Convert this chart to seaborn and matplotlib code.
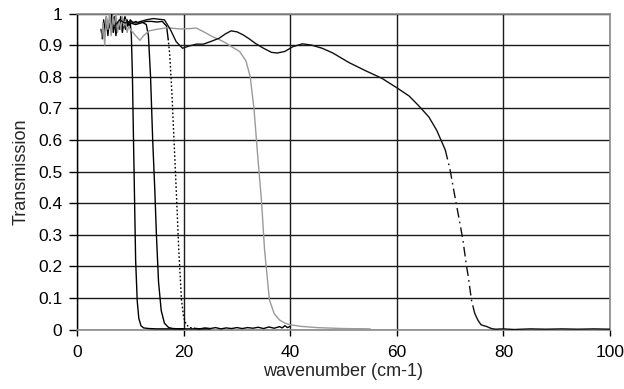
import matplotlib
matplotlib.use("Agg")
import matplotlib.pyplot as plt
import seaborn as sns
import pandas as pd

# ---------------- data ----------------
# curve 1: black solid, cut-off near 11 cm-1
c1_x = [4.5, 4.8, 5.0, 5.3, 5.5, 5.8, 6.0, 6.3, 6.5, 6.8, 7.0, 7.3, 7.6, 7.9, 8.2, 8.5,
        8.8, 9.1, 9.4, 9.7, 10.0, 10.2, 10.4, 10.6, 10.8, 11.0, 11.3, 11.6, 12.0, 12.5,
        13.5, 15.0, 17.0, 20.0]
c1_y = [0.95, 0.92, 0.98, 0.94, 0.99, 0.93, 0.97, 0.95, 1.00, 0.94, 0.98, 0.93, 0.97,
        0.95, 0.99, 0.94, 0.97, 0.95, 0.98, 0.96, 0.97, 0.93, 0.80, 0.60, 0.41, 0.22,
        0.09, 0.035, 0.012, 0.005, 0.003, 0.002, 0.002, 0.002]

# curve 2: black solid, cut-off near 15 cm-1
c2_x = [6.5, 7.0, 7.5, 8.0, 8.5, 9.0, 9.5, 10.0, 10.5, 11.0, 11.5, 12.0, 12.5, 13.0,
        13.4, 13.8, 14.2, 14.6, 14.9, 15.3, 15.8, 16.4, 17.2, 18.0, 20.0, 25.0]
c2_y = [0.97, 0.99, 0.95, 0.98, 0.96, 0.99, 0.96, 0.98, 0.97, 0.975, 0.97, 0.975, 0.97,
        0.965, 0.93, 0.80, 0.60, 0.44, 0.30, 0.15, 0.06, 0.02, 0.006, 0.003, 0.002, 0.002]

# curve 3: black, dotted in its steep drop near 19 cm-1
c3_top_x = [7.0, 8.0, 9.0, 10.0, 11.0, 12.0, 13.0, 14.0, 15.0, 16.0, 16.8, 17.1]
c3_top_y = [0.98, 0.96, 0.98, 0.97, 0.965, 0.97, 0.975, 0.975, 0.973, 0.975, 0.96, 0.92]
c3_drop_x = [17.1, 17.4, 17.8, 18.2, 18.7, 19.1, 19.6, 20.0, 20.5, 21.2, 22.0]
c3_drop_y = [0.92, 0.87, 0.75, 0.60, 0.41, 0.25, 0.094, 0.04, 0.015, 0.006, 0.004]
c3_tail_x = [22.0, 23.0, 24.0, 25.0, 26.0, 27.0, 28.0, 29.0, 30.0, 31.0, 32.0, 33.0,
             34.0, 35.0, 36.0, 37.0, 38.0, 38.5, 39.0, 39.5, 40.0]
c3_tail_y = [0.004, 0.002, 0.005, 0.003, 0.006, 0.002, 0.005, 0.003, 0.006, 0.003,
             0.006, 0.004, 0.007, 0.003, 0.008, 0.004, 0.009, 0.005, 0.012, 0.006, 0.010]

# curve 4: grey solid, cut-off near 35 cm-1
c4_x = [4.6, 4.9, 5.2, 5.5, 5.8, 6.1, 6.4, 6.7, 7.0, 7.3, 7.6, 7.9, 8.2, 8.5, 8.8, 9.1,
        9.4, 9.7, 10.0, 10.5, 11.0, 11.8, 12.5, 13.5, 15.0, 17.0, 19.3, 21.0, 22.4,
        24.0, 25.4, 27.0, 28.0, 29.0, 30.5, 31.7, 32.5, 33.2, 33.9, 34.6, 35.2, 36.1,
        37.0, 38.0, 39.0, 40.0, 42.0, 45.0, 50.0, 55.0]
c4_y = [0.92, 0.97, 0.90, 0.99, 0.95, 1.00, 0.93, 0.99, 0.96, 1.00, 0.94, 0.98, 0.95,
        0.99, 0.96, 0.98, 0.94, 0.96, 0.95, 0.94, 0.93, 0.915, 0.93, 0.945, 0.95, 0.955,
        0.951, 0.952, 0.954, 0.94, 0.927, 0.915, 0.906, 0.895, 0.88, 0.85, 0.80, 0.70,
        0.55, 0.41, 0.25, 0.094, 0.05, 0.03, 0.02, 0.015, 0.01, 0.006, 0.003, 0.002]

# curve 5: black, dash-dot in its steep drop near 72 cm-1
c5_top_x = [7.0, 8.0, 9.0, 10.0, 11.0, 12.0, 13.0, 14.3, 15.3, 16.4, 17.5, 18.6, 19.8,
            21.0, 22.4, 23.7, 25.2, 26.7, 27.8, 28.9, 30.0, 31.1, 32.3, 33.5, 35.0,
            36.5, 37.6, 39.0, 40.5, 42.3, 44.0, 46.0, 48.0, 51.0, 54.0, 57.2, 60.0,
            62.3, 64.0, 66.0, 67.5, 69.1]
c5_top_y = [0.96, 0.98, 0.97, 0.975, 0.97, 0.975, 0.98, 0.984, 0.982, 0.98, 0.95, 0.911,
            0.89, 0.897, 0.903, 0.903, 0.912, 0.922, 0.935, 0.945, 0.942, 0.933, 0.92,
            0.905, 0.89, 0.877, 0.875, 0.88, 0.895, 0.904, 0.90, 0.89, 0.875, 0.845,
            0.82, 0.795, 0.765, 0.739, 0.71, 0.673, 0.63, 0.568]
c5_drop_x = [69.1, 70.0, 70.8, 71.6, 72.4, 73.0, 73.4, 74.0, 74.6]
c5_drop_y = [0.568, 0.505, 0.43, 0.358, 0.284, 0.21, 0.168, 0.094, 0.052]
c5_tail_x = [74.6, 75.2, 75.8, 76.3, 76.8, 77.3, 77.8, 78.5, 80.0, 82.0, 85.0, 88.0,
             91.0, 94.0, 97.0, 100.0]
c5_tail_y = [0.052, 0.03, 0.015, 0.012, 0.01, 0.006, 0.003, 0.001, 0.002, 0.0, 0.002,
             0.001, 0.002, 0.001, 0.002, 0.001]

x_ticks = [0, 20, 40, 60, 80, 100]
y_ticks = [0, 0.1, 0.2, 0.3, 0.4, 0.5, 0.6, 0.7, 0.8, 0.9, 1]
y_tick_labels = ["0", "0.1", "0.2", "0.3", "0.4", "0.5", "0.6", "0.7", "0.8", "0.9", "1"]
x_label = "wavenumber (cm-1)"
y_label = "Transmission"

# ---------------- plot ----------------
sns.set_style("white")
plt.rcParams["font.family"] = ["Liberation Sans", "DejaVu Sans"]

fig = plt.figure(figsize=(6.24, 3.89), dpi=100)
ax = fig.add_axes([77 / 624, 1 - 329.5 / 389, 533 / 624, 316 / 389])

pieces = [
    (c1_x, c1_y, "#000000", "-"),
    (c2_x, c2_y, "#000000", "-"),
    (c3_top_x, c3_top_y, "#000000", "-"),
    (c3_drop_x, c3_drop_y, "#000000", (0, (1.2, 1.6))),
    (c3_tail_x, c3_tail_y, "#000000", "-"),
    (c4_x, c4_y, "#9a9a9a", "-"),
    (c5_top_x, c5_top_y, "#111111", "-"),
    (c5_drop_x, c5_drop_y, "#111111", (0, (7, 3, 1.2, 3))),
    (c5_tail_x, c5_tail_y, "#111111", "-"),
]
for xs, ys, col, ls in pieces:
    df = pd.DataFrame({"x": xs, "y": ys})
    sns.lineplot(data=df, x="x", y="y", ax=ax, color=col, linestyle=ls,
                 linewidth=1.0, sort=False, estimator=None, zorder=3)

ax.set_xlim(0, 100)
ax.set_ylim(0, 1)
ax.set_xticks(x_ticks)
ax.set_xticklabels([str(v) for v in x_ticks])
ax.set_yticks(y_ticks)
ax.set_yticklabels(y_tick_labels)
ax.grid(True, color="#1a1a1a", linewidth=1.0, zorder=0)
ax.set_axisbelow(True)

for side in ["top", "right", "bottom"]:
    ax.spines[side].set_color("#8a8a8a")
    ax.spines[side].set_linewidth(1.2)
ax.spines["left"].set_color("#000000")
ax.spines["left"].set_linewidth(1.0)

ax.tick_params(axis="y", which="major", direction="out", length=6, width=1,
               color="#000000", labelsize=12.5, labelcolor="#000000", pad=4.5, left=True)
ax.tick_params(axis="x", which="major", direction="out", length=4.5, width=1,
               color="#000000", labelsize=12.5, labelcolor="#000000", pad=7, bottom=True)
ax.set_xlabel(x_label, fontsize=13, labelpad=2)
ax.set_ylabel(y_label, fontsize=13, labelpad=6)

fig.savefig("out.png", dpi=100)
